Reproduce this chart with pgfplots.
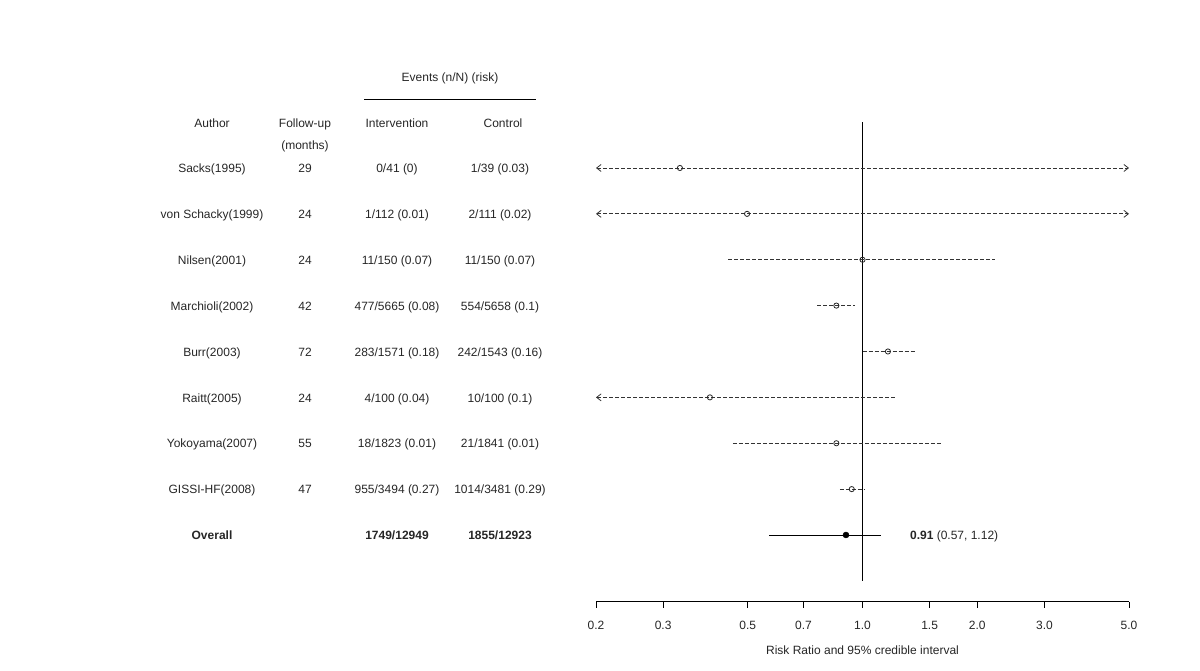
\documentclass[border=0pt]{standalone}
\usepackage{pgfplots}
\pgfplotsset{compat=1.18}
\usepackage{fontspec}
\setmainfont{Liberation Sans}
\usetikzlibrary{arrows.meta}

\newcommand{\trow}[5]{%
  \node[anchor=base] at (212pt,-#1pt-4.4pt) {#2};
  \node[anchor=base] at (305pt,-#1pt-4.4pt) {#3};
  \node[anchor=base] at (397pt,-#1pt-4.4pt) {#4};
  \node[anchor=base] at (500pt,-#1pt-4.4pt) {#5};
}

\begin{document}
\begin{tikzpicture}[font=\fontsize{12}{14}\selectfont, text=black!85]
\path[use as bounding box] (0pt,0pt) rectangle (1200pt,-671pt);
% header
\node[anchor=base] at (450pt,-81.4pt) {Events (n/N) (risk)};
\draw[line width=0.9pt] (364pt,-99pt) -- (536pt,-99pt);
\node[anchor=base] at (212pt,-127.4pt) {Author};
\node[anchor=base] at (305pt,-127.4pt) {Follow-up};
\node[anchor=base] at (305pt,-149.4pt) {(months)};
\node[anchor=base] at (397pt,-127.4pt) {Intervention};
\node[anchor=base] at (503pt,-127.4pt) {Control};
% rows
\trow{168}{Sacks(1995)}{29}{0/41 (0)}{1/39 (0.03)}
\trow{214}{von Schacky(1999)}{24}{1/112 (0.01)}{2/111 (0.02)}
\trow{260}{Nilsen(2001)}{24}{11/150 (0.07)}{11/150 (0.07)}
\trow{306}{Marchioli(2002)}{42}{477/5665 (0.08)}{554/5658 (0.1)}
\trow{352}{Burr(2003)}{72}{283/1571 (0.18)}{242/1543 (0.16)}
\trow{398}{Raitt(2005)}{24}{4/100 (0.04)}{10/100 (0.1)}
\trow{443}{Yokoyama(2007)}{55}{18/1823 (0.01)}{21/1841 (0.01)}
\trow{489}{GISSI-HF(2008)}{47}{955/3494 (0.27)}{1014/3481 (0.29)}
\trow{535}{\bfseries Overall}{}{\bfseries 1749/12949}{\bfseries 1855/12923}

\begin{axis}[
  at={(596pt,-601.7pt)}, anchor=south west,
  scale only axis, width=533pt, height=479.6pt,
  xmode=log, xmin=0.2, xmax=5, ymin=-0.454, ymax=10,
  axis x line*=bottom, axis y line=none,
  xtick={0.2,0.3,0.5,0.7,1,1.5,2,3,5},
  xticklabels={0.2,0.3,0.5,0.7,1.0,1.5,2.0,3.0,5.0},
  minor xtick={},
  ytick=\empty,
  tick align=outside, major tick length=6pt,
  axis line style={line width=0.9pt,black},
  every tick/.style={line width=0.9pt,black},
  xticklabel style={font=\fontsize{12}{14}\selectfont, text=black!85, yshift=-10pt},
  xlabel={Risk Ratio and 95\% credible interval},
  xlabel style={at={(rel axis cs:0.5,0)}, anchor=center, yshift=-48.3pt, font=\fontsize{12}{14}\selectfont, text=black!85},
  clip=false,
  ci/.style={black!80, line width=0.8pt, dash pattern=on 4pt off 2pt},
]
% reference line at RR = 1
\addplot[black, line width=0.9pt] coordinates {(1,0) (1,10)};
% study intervals
\addplot[ci, arrows={Straight Barb[length=4.5pt,width=7pt]-Straight Barb[length=4.5pt,width=7pt]}] coordinates {(0.2,9) (5,9)};
\addplot[ci, arrows={Straight Barb[length=4.5pt,width=7pt]-Straight Barb[length=4.5pt,width=7pt]}] coordinates {(0.2,8) (5,8)};
\addplot[ci] coordinates {(0.444,7) (2.226,7)};
\addplot[ci] coordinates {(0.762,6) (0.958,6)};
\addplot[ci] coordinates {(1.0,5) (1.373,5)};
\addplot[ci, arrows={Straight Barb[length=4.5pt,width=7pt]-}] coordinates {(0.2,4) (1.221,4)};
\addplot[ci] coordinates {(0.457,3) (1.608,3)};
\addplot[ci] coordinates {(0.872,2) (1.015,2)};
% study estimates
\addplot[only marks, mark=o, mark size=2.6pt, mark options={solid, black!85, line width=0.8pt, fill=white}] coordinates {
(0.332,9) (0.498,8) (1.0,7) (0.854,6) (1.166,5) (0.398,4) (0.854,3) (0.937,2)};
% overall
\addplot[black, line width=0.9pt] coordinates {(0.569,1) (1.121,1)};
\addplot[only marks, mark=*, mark size=3pt, mark options={black}] coordinates {(0.905,1)};
\node[anchor=base west, text=black!85] at (axis cs:1.305,0.904) {\textbf{0.91} (0.57, 1.12)};
\end{axis}
\end{tikzpicture}
\end{document}
